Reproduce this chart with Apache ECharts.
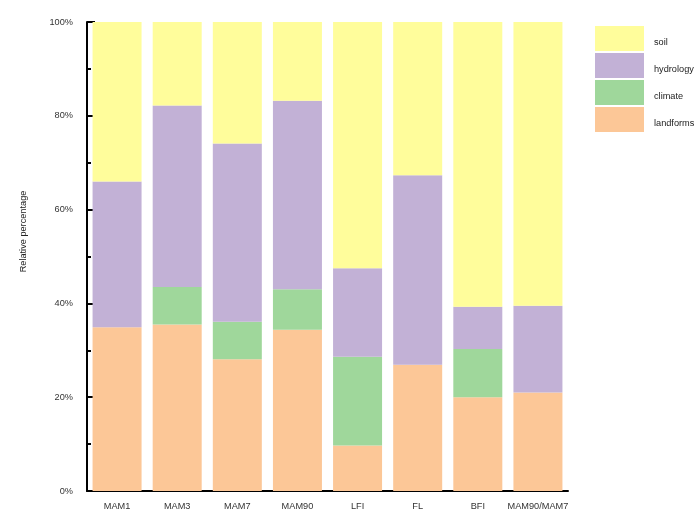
<!DOCTYPE html>
<html>
<head>
<meta charset="utf-8">
<script src="https://cdn.jsdelivr.net/npm/echarts@6/dist/echarts.min.js"></script>
<style>html,body{margin:0;padding:0;background:#fff}#c{width:700px;height:524px}</style>
</head>
<body>
<div id="c"></div>
<script>
var categories = ['MAM1','MAM3','MAM7','MAM90','LFI','FL','BFI','MAM90/MAM7'];
var landforms = [34.9, 35.5, 28.1, 34.4, 9.7, 26.9, 20.0, 21.0];
var climate   = [0,    8.0,  8.0,  8.6,  18.9, 0,   10.3, 0];
var hydrology = [31.1, 38.7, 38.0, 40.2, 18.9, 40.4, 9.0, 18.5];
var soil      = [34.0, 17.8, 25.9, 16.8, 52.5, 32.7, 60.7, 60.5];
var legendOrder = ['soil','hydrology','climate','landforms'];
var yTicks = [0, 20, 40, 60, 80, 100];

var colors = {soil:'#FFFD9B', hydrology:'#C2B1D6', climate:'#9FD79B', landforms:'#FCC797'};
var font = 'Liberation Sans, Arial, sans-serif';
var fs = 9.2;

function mk(name, data){
  return {
    name: name, type: 'bar', stack: 'total', data: data, barWidth: 49,
    itemStyle: {color: colors[name]},
    emphasis: {disabled: true}
  };
}

var chart = echarts.init(document.getElementById('c'));
chart.setOption({
  animation: false,
  grid: {left: 87, right: 132, top: 22, bottom: 33, containLabel: false},
  legend: {
    orient: 'vertical', left: 595, top: 26, padding: 0,
    data: legendOrder.map(function(n){return {name:n, icon:'rect'};}),
    itemWidth: 49, itemHeight: 25, itemGap: 2,
    formatter: '{a|{name}}',
    textStyle: {
      fontFamily: font, fontSize: fs, color: '#222',
      rich: {a: {fontFamily: font, fontSize: fs, color: '#222', padding: [7,0,0,5]}}
    },
    selectedMode: false
  },
  xAxis: {
    type: 'category', data: categories,
    axisLine: {lineStyle: {color: '#000', width: 2}},
    axisTick: {show: false},
    axisLabel: {fontFamily: font, fontSize: fs, color: '#333', margin: 11, interval: 0}
  },
  yAxis: {
    type: 'value', min: yTicks[0], max: yTicks[yTicks.length-1], interval: 20,
    name: 'Relative percentage', nameLocation: 'middle', nameRotate: 90, nameGap: 59,
    nameTextStyle: {fontFamily: font, fontSize: fs, color: '#222', padding: [0,0,0,50]},
    axisLine: {show: true, lineStyle: {color: '#000', width: 2}},
    axisTick: {show: true, inside: true, length: 8, lineStyle: {color: '#000', width: 2}},
    minorTick: {show: true, splitNumber: 2, length: 4, lineStyle: {color: '#000', width: 2}},
    splitLine: {show: false},
    axisLabel: {fontFamily: font, fontSize: fs, color: '#333', margin: 14, formatter: '{value}%'}
  },
  series: [
    mk('landforms', landforms),
    mk('climate', climate),
    mk('hydrology', hydrology),
    mk('soil', soil)
  ]
});
</script>
</body>
</html>
